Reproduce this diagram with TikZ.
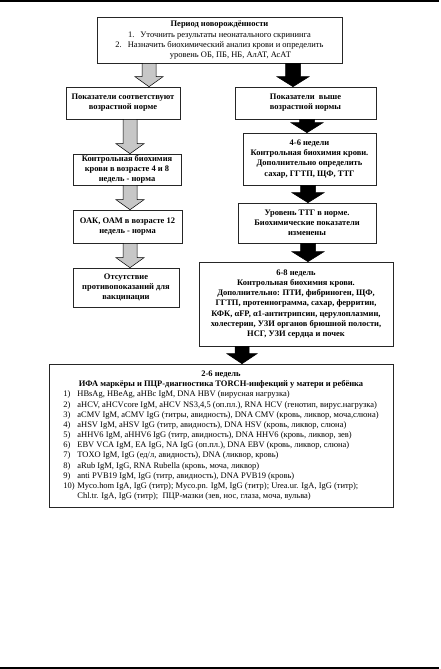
\documentclass[tikz,border=0pt]{standalone}
\usepackage{fontspec}
\setmainfont{Liberation Serif}
\usetikzlibrary{calc}

\newcommand{\taille}{\fontsize{8.5}{10.2}\selectfont}
% fleche pleine : style, depart, arrivee, demi-corps, demi-pointe
\newcommand{\flechebloc}[5]{%
  \path #2 coordinate (dep) #3 coordinate (arr);
  \filldraw[#1] ($(dep)+(-#4,0)$) -- ($(arr)+(-#4,-10)$) -- ($(arr)+(-#5,-10)$) -- (arr)
    -- ($(arr)+(#5,-10)$) -- ($(arr)+(#4,-10)$) -- ($(dep)+(#4,0)$) -- cycle;
}

\begin{document}
\begin{tikzpicture}[x=1bp,y=-1bp]
      \tikzstyle{bloc}=[draw=black!85, line width=0.6bp, fill=white, inner sep=0pt, align=center, font=\taille\bfseries]
      \tikzstyle{grise}=[fill=black!22, draw=black, line width=0.5bp]
      \tikzstyle{noire}=[fill=black, draw=black, line width=0.5bp]

      \useasboundingbox (0,0) rectangle (441,669);
      \draw[line width=1.3bp] (0,1) -- (439,1);
      \draw[line width=1.3bp] (0,668) -- (439,668);

      \node[bloc, font=\taille, minimum width=245bp, minimum height=46bp] (neo) at (219.5,40) {\textbf{Период новорождённости}\\[0.5bp]
        1.\hspace{6bp}Уточнить результаты неонатального скрининга\\
        2.\hspace{6bp}Назначить биохимический анализ крови и определить\\
        \hspace{22bp}уровень ОБ, ПБ, НБ, АлАТ, АсАТ};

      \node[bloc, minimum width=114bp, minimum height=32bp] (norme) at (123,103) {Показатели соответствуют\\возрастной норме};
      \node[bloc, minimum width=108bp, minimum height=31bp] (bio) at (127,169.5) {Контрольная биохимия\\крови в возрасте 4 и 8\\недель - норма};
      \node[bloc, minimum width=109bp, minimum height=33bp] (oak) at (127.5,226.5) {ОАК, ОАМ в возрасте 12\\недель - норма};
      \node[bloc, minimum width=106bp, minimum height=39bp] (vacc) at (126,287.5) {Отсутствие\\противопоказаний для\\вакцинации};

      \node[bloc, minimum width=141bp, minimum height=32bp] (haut) at (305.5,103) {Показатели \ выше\\возрастной нормы};
      \node[bloc, minimum width=133bp, minimum height=52bp] (sem4) at (309.5,159) {4-6 недели\\Контрольная биохимия крови.\\Дополнительно определить\\сахар, ГГТП, ЩФ, ТТГ};
      \node[bloc, minimum width=138bp, minimum height=40bp] (ttg) at (307,223) {Уровень ТТГ в норме.\\Биохимические показатели\\изменены};
      \node[bloc, minimum width=194bp, minimum height=84bp] (sem6) at (296,304) {6-8 недель\\Контрольная биохимия крови.\\Дополнительно: ПТИ, фибриноген, ЩФ,\\ГГТП, протеинограмма, сахар, ферритин,\\КФК, αFP, α1-антитрипсин, церулоплазмин,\\холестерин, УЗИ органов брюшной полости,\\НСГ, УЗИ сердца и почек};

      \node[bloc, font=\taille, minimum width=344bp, minimum height=143bp] (torch) at (221,435.5) {%
        \begin{tabular}{@{}p{14bp}@{}l@{}}
        \multicolumn{2}{c}{\textbf{2-6 недель}}\\
        \multicolumn{2}{c}{\textbf{ИФА маркёры и ПЦР-диагностика TORCH-инфекций у матери и ребёнка}}\\
        1) & HBsAg, HBeAg, aHBc IgM, DNA HBV (вирусная нагрузка)\\
        2) & aHCV, aHCVcore IgM, aHCV NS3,4,5 (оп.пл.), RNA HCV (генотип, вирус.нагрузка)\\
        3) & aCMV IgM, aCMV IgG (титры, авидность), DNA CMV (кровь, ликвор, моча,слюна)\\
        4) & aHSV IgM, aHSV IgG (титр, авидность), DNA HSV (кровь, ликвор, слюна)\\
        5) & aHHV6 IgM, aHHV6 IgG (титр, авидность), DNA HHV6 (кровь, ликвор, зев)\\
        6) & EBV VCA IgM, EA IgG, NA IgG (оп.пл.), DNA EBV (кровь, ликвор, слюна)\\
        7) & TOXO IgM, IgG (ед/л, авидность), DNA (ликвор, кровь)\\
        8) & aRub IgM, IgG, RNA Rubella (кровь, моча, ликвор)\\
        9) & anti PVB19 IgM, IgG (титр, авидность), DNA PVB19 (кровь)\\
        10) & Myco.hom IgA, IgG (титр); Myco.pn. IgM, IgG (титр); Urea.ur. IgA, IgG (титр);\\
         & Chl.tr. IgA, IgG (титр); \ ПЦР-мазки (зев, нос, глаза, моча, вульва)
        \end{tabular}};

      \flechebloc{grise}{(neo.south -| 149,0)}{(norme.north -| 149,0)}{7}{14}
      \flechebloc{grise}{(norme.south -| 130,0)}{(bio.north -| 130,0)}{7}{14}
      \flechebloc{grise}{(bio.south -| 130,0)}{(oak.north -| 130,0)}{7}{14}
      \flechebloc{grise}{(oak.south -| 130,0)}{(vacc.north -| 130,0)}{7}{14}
      \flechebloc{noire}{(neo.south -| 293,0)}{(haut.north -| 293,0)}{7.5}{16}
      \flechebloc{noire}{(haut.south -| 307,0)}{(sem4.north -| 307,0)}{7.5}{16}
      \flechebloc{noire}{(sem4.south -| 308,0)}{(ttg.north -| 308,0)}{7.5}{16}
      \flechebloc{noire}{(ttg.south -| 308,0)}{(sem6.north -| 308,0)}{7.5}{16}
      \flechebloc{noire}{(sem6.south -| 242,0)}{(torch.north -| 242,0)}{7}{15}

    \end{tikzpicture}
\end{document}
